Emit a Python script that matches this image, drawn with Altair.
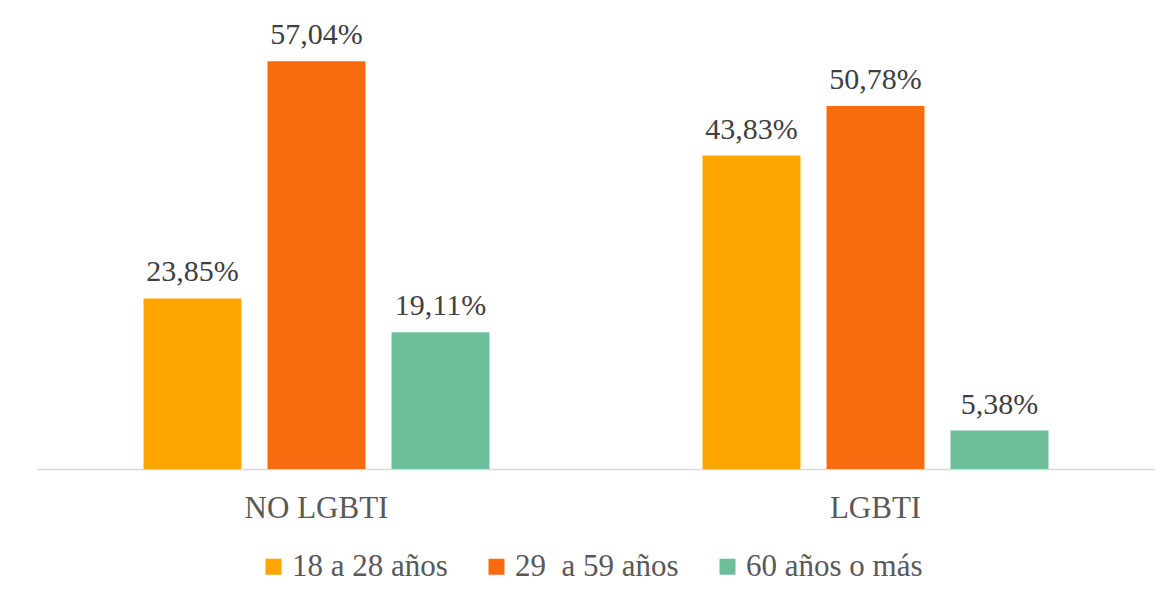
import altair as alt
import pandas as pd

groups = ["NO LGBTI", "LGBTI"]
ages = ["18 a 28 años", "29\u00a0 a 59 años", "60 años o más"]
values_no_lgbti = [23.85, 57.04, 19.11]
values_lgbti = [43.83, 50.78, 5.38]
colors = ["#FFA500", "#F96B0E", "#6DBF9B"]

rows = []
for g, vals in zip(groups, [values_no_lgbti, values_lgbti]):
    for a, v in zip(ages, vals):
        rows.append({"group": g, "age": a, "value": v,
                     "label": f"{v:.2f}".replace(".", ",") + "%"})
df = pd.DataFrame(rows)

FONT = "Liberation Serif"

base = alt.Chart(df).encode(
    x=alt.X("group:N", sort=groups,
            scale=alt.Scale(paddingInner=0, paddingOuter=0),
            axis=alt.Axis(title=None, labelAngle=0, ticks=False,
                          domainColor="#d9d9d9", domainWidth=1.5,
                          labelFont=FONT, labelFontSize=31, labelColor="#595959",
                          labelPadding=48, labelBaseline="alphabetic")),
    xOffset=alt.XOffset("age:N", sort=ages,
                        scale=alt.Scale(paddingInner=0.21, paddingOuter=0.859)),
    y=alt.Y("value:Q", scale=alt.Scale(domain=[0, 60]), axis=None),
)

bars = base.mark_bar().encode(
    color=alt.Color("age:N", sort=ages,
                    scale=alt.Scale(domain=ages, range=colors),
                    legend=alt.Legend(title=None, orient="none", legendX=221, legendY=511,
                                      direction="horizontal", symbolType="square",
                                      symbolSize=256, symbolStrokeWidth=0,
                                      labelFont=FONT, labelFontSize=31,
                                      labelColor="#595959", labelOffset=3,
                                      columnPadding=33, padding=0, labelLimit=0))
)

labels = base.mark_text(dy=-17, baseline="alphabetic", fontSize=30, font=FONT,
                        color="#404040").encode(text="label:N")

chart = (bars + labels).properties(
    width=1118, height=429,
    autosize=alt.AutoSizeParams(type="none"),
    padding={"left": 29, "top": 32, "right": 7, "bottom": 120},
).configure_view(stroke=None).configure_text(font=FONT)

chart.save("out.html", embed_options={"renderer": "svg", "actions": False})
